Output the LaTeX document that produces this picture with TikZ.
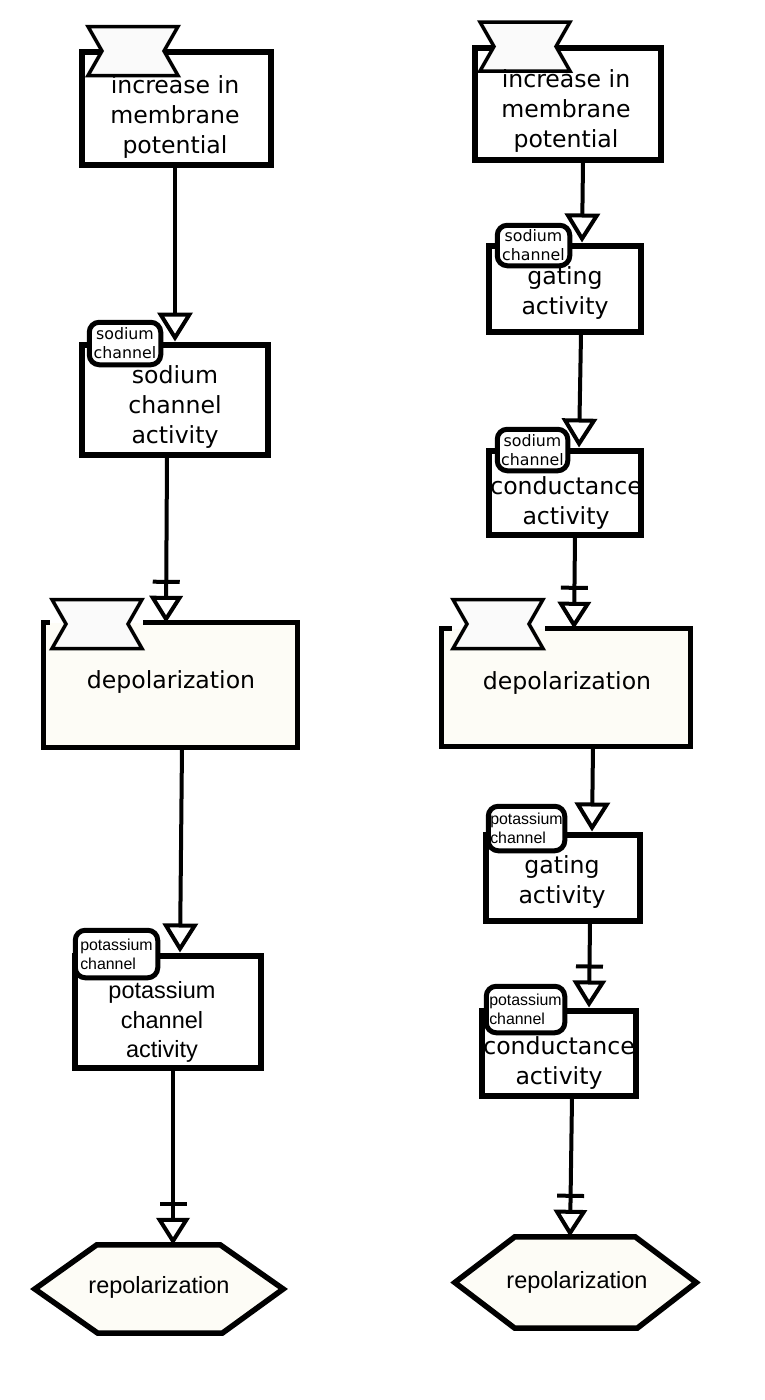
\documentclass[tikz,border=0pt]{standalone}
\usepackage{fontspec}
\setmainfont{DejaVu Sans}
\newfontfamily\lsans{Liberation Sans}
\usepackage{tikz}
\usetikzlibrary{arrows.meta,positioning,calc}
\definecolor{procfill}{RGB}{253,252,246}
\definecolor{evfill}{RGB}{250,250,250}
\tikzset{
  bowtie/.pic={\draw[line width=3.5pt,fill=evfill] (-45,-24.5) -- (45,-24.5) -- (31,0) -- (45,24.5) -- (-45,24.5) -- (-31,0) -- cycle;}
}

\begin{document}
\begin{tikzpicture}[x=1pt,y=-1pt,
  act/.style={draw,line width=6pt,fill=white,inner sep=0pt},
  proc/.style={fill=procfill,inner sep=0pt},
  pborder/.style={line width=5pt},
  hex/.style={line width=5.5pt,fill=procfill},
  tag/.style={draw,line width=5pt,fill=white,rounded corners=10pt,inner sep=0pt,align=center,font=\fontsize{15.8}{19}\selectfont},
  ktag/.style={tag,align=left,font=\lsans\fontsize{15.9}{19}\selectfont},
  txt/.style={align=center,inner sep=0pt,font=\fontsize{23.6}{30}\selectfont},
  ktxt/.style={txt,font=\lsans\fontsize{23.5}{29.5}\selectfont},
  stim/.style={line width=4pt,-{Triangle[open,length=29pt,width=35pt]}},
  inh/.style={line width=4pt,-{Bar[width=27pt,sep=12pt]Triangle[open,length=27pt,width=33pt]}}]
\useasboundingbox (0,0) rectangle (765,1400);

\node[act,minimum width=189pt,minimum height=113pt] (imp1) at (176,108) {};
\pic at (133,51) {bowtie};
\node[txt] (imp1t) at (175,117) {increase in\\membrane\\potential};

\node[act,minimum width=186pt,minimum height=110pt] (sca) at (174.5,399.5) {};
\node[tag,minimum width=71.5pt,minimum height=42.5pt] (t1) at (125,343.5) {sodium\\channel};
\node[txt] (scat) at (175,407) {sodium\\channel\\activity};

\node[proc,minimum width=253pt,minimum height=124pt] (dep1) at (170.5,685) {};
\draw[pborder] (dep1.north west) ++(6,0) -- (dep1.north west) -- (dep1.south west) -- (dep1.south east) -- (dep1.north east) -- ++(-154,0);
\pic at (97,624) {bowtie};
\node[txt] (dep1t) at (171,682) {depolarization};

\node[act,minimum width=186pt,minimum height=112pt] (kca) at (167.5,1011.5) {};
\node[ktag,minimum width=82.5pt,minimum height=47.5pt] (t4) at (116.5,954) {potassium\\channel};
\node[ktxt] (kcat) at (162,1022) {potassium\\channel\\activity};

\node[minimum width=248pt,minimum height=88pt,inner sep=0pt] (rep1) at (159,1289) {};
\draw[hex] (rep1.west) -- ([xshift=62pt]rep1.north west) -- ([xshift=-63pt]rep1.north east) -- (rep1.east) -- ([xshift=-61pt]rep1.south east) -- ([xshift=63pt]rep1.south west) -- cycle;
\node[ktxt] (rep1t) at (159,1287) {repolarization};

\node[act,minimum width=186pt,minimum height=112pt] (imp2) at (567.5,103.5) {};
\pic at (525,46.5) {bowtie};
\node[txt] (imp2t) at (566,111) {increase in\\membrane\\potential};

\node[act,minimum width=152pt,minimum height=86pt] (sga) at (565,288.5) {};
\node[tag,minimum width=72.5pt,minimum height=40.5pt] (t2) at (533.5,245.5) {sodium\\channel};
\node[txt] (sgat) at (565,293) {gating\\activity};

\node[act,minimum width=152pt,minimum height=84pt] (scd) at (564.5,492.5) {};
\node[tag,minimum width=70.5pt,minimum height=41.5pt] (t3) at (532.5,450) {sodium\\channel};
\node[txt] (scdt) at (566,503) {conductance\\activity};

\node[proc,minimum width=248pt,minimum height=117pt] (dep2) at (566,687.5) {};
\draw[pborder] (dep2.north west) ++(10,0) -- (dep2.north west) -- (dep2.south west) -- (dep2.south east) -- (dep2.north east) -- ++(-145,0);
\pic at (498,624) {bowtie};
\node[txt] (dep2t) at (567,683) {depolarization};

\node[act,minimum width=154pt,minimum height=86pt] (kga) at (562.5,877.5) {};
\node[ktag,minimum width=76.5pt,minimum height=44.5pt] (t5) at (526.5,828.5) {potassium\\channel};
\node[txt] (kgat) at (562,882) {gating\\activity};

\node[act,minimum width=154pt,minimum height=85pt] (kcd) at (558.5,1053) {};
\node[ktag,minimum width=78.5pt,minimum height=46.5pt] (t6) at (525.5,1009.5) {potassium\\channel};
\node[txt] (kcdt) at (559,1063) {conductance\\activity};

\node[minimum width=241pt,minimum height=91pt,inner sep=0pt] (rep2) at (575.5,1282.5) {};
\draw[hex] (rep2.west) -- ([xshift=60pt]rep2.north west) -- ([xshift=-61pt]rep2.north east) -- (rep2.east) -- ([xshift=-59pt]rep2.south east) -- ([xshift=60pt]rep2.south west) -- cycle;
\node[ktxt] (rep2t) at (577,1282) {repolarization};

\draw[stim] ([xshift=-1pt]imp1.south) -- ([xshift=0.5pt]sca.north);
\draw[inh] ([xshift=-7.5pt]sca.south) -- ([xshift=-4.5pt]dep1.north);
\draw[stim] ([xshift=11.5pt]dep1.south) -- ([xshift=12.5pt]kca.north);
\draw[inh] ([xshift=5.5pt]kca.south) -- ([xshift=14pt]rep1.north);

\draw[stim] ([xshift=15.5pt]imp2.south) -- ([xshift=17pt]sga.north);
\draw[stim] ([xshift=16pt]sga.south) -- ([xshift=14.5pt]scd.north);
\draw[inh] ([xshift=10.5pt]scd.south) -- ([xshift=8pt]dep2.north);
\draw[stim] ([xshift=27pt]dep2.south) -- ([xshift=29.5pt]kga.north);
\draw[inh] ([xshift=27.5pt]kga.south) -- ([xshift=30.5pt]kcd.north);
\draw[inh] ([xshift=13.5pt]kcd.south) -- ([xshift=-5.5pt]rep2.north);
\end{tikzpicture}
\end{document}
